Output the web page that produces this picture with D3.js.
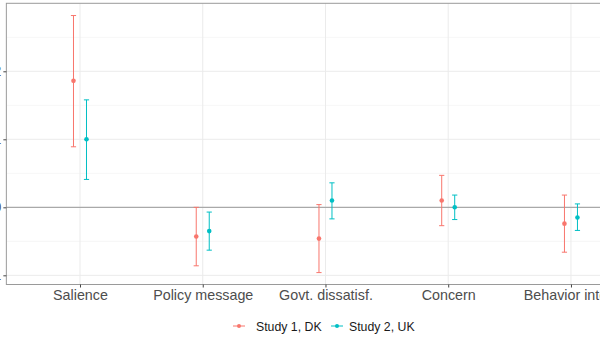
<!DOCTYPE html>
<html>
<head>
<meta charset="utf-8">
<script src="https://cdn.jsdelivr.net/npm/d3@7"></script>
<style>
  html, body { margin: 0; padding: 0; background: #fff; }
  svg { display: block; font-family: "Liberation Sans", Arial, Helvetica, sans-serif; }
</style>
</head>
<body>
<svg id="chart" width="600" height="337"></svg>
<script>
const categories = ["Salience", "Policy message", "Govt. dissatisf.", "Concern", "Behavior intent"];
const seriesNames = ["Study 1, DK", "Study 2, UK"];
const seriesColors = ["#F8766D", "#00BFC4"];
// estimates, lower and upper bounds per series
const study1Est   = [0.186, -0.043, -0.046, 0.010, -0.024];
const study1Lower = [0.089, -0.086, -0.096, -0.027, -0.066];
const study1Upper = [0.282, 0.000, 0.004, 0.047, 0.018];
const study2Est   = [0.100, -0.035, 0.010, 0.000, -0.015];
const study2Lower = [0.041, -0.063, -0.017, -0.018, -0.034];
const study2Upper = [0.158, -0.007, 0.036, 0.018, 0.005];
const yTicks = [-0.1, 0.0, 0.1, 0.2];
const yTickLabels = ["-0.1", "0.0", "0.1", "0.2"];
const yMinor = [-0.05, 0.05, 0.15, 0.25];

const svg = d3.select("#chart");
const panel = { left: 6.35, right: 644.6, top: 3.3, bottom: 284.5 };

const x = d3.scalePoint().domain(categories).range([panel.left, panel.right]).padding(0.6);
const y = d3.scaleLinear().domain([-0.1135, 0.3]).range([panel.bottom, panel.top]);
const dodge = 6.5;

const series = [
  { name: seriesNames[0], color: seriesColors[0], est: study1Est, lo: study1Lower, hi: study1Upper, off: -dodge },
  { name: seriesNames[1], color: seriesColors[1], est: study2Est, lo: study2Lower, hi: study2Upper, off: dodge }
];

const g = svg.append("g");

// minor gridlines
g.selectAll(".minor").data(yMinor).enter().append("line")
  .attr("x1", panel.left).attr("x2", panel.right)
  .attr("y1", d => y(d)).attr("y2", d => y(d))
  .attr("stroke", "#f0f0f0").attr("stroke-width", 0.6);
// major gridlines
g.selectAll(".major").data(yTicks).enter().append("line")
  .attr("x1", panel.left).attr("x2", panel.right)
  .attr("y1", d => y(d)).attr("y2", d => y(d))
  .attr("stroke", "#ebebeb").attr("stroke-width", 1);
g.selectAll(".vmajor").data(categories).enter().append("line")
  .attr("x1", d => x(d)).attr("x2", d => x(d))
  .attr("y1", panel.top).attr("y2", panel.bottom)
  .attr("stroke", "#ebebeb").attr("stroke-width", 1);

// zero line
g.append("line")
  .attr("x1", panel.left).attr("x2", panel.right)
  .attr("y1", y(0)).attr("y2", y(0))
  .attr("stroke", "#9a9a9a").attr("stroke-width", 1);

// error bars and points
series.forEach(s => {
  const sg = g.append("g");
  categories.forEach((c, i) => {
    const cx = x(c) + s.off;
    sg.append("line").attr("x1", cx).attr("x2", cx)
      .attr("y1", y(s.lo[i])).attr("y2", y(s.hi[i]))
      .attr("stroke", s.color).attr("stroke-width", 1);
    [s.lo[i], s.hi[i]].forEach(v => {
      sg.append("line").attr("x1", cx - 2.6).attr("x2", cx + 2.6)
        .attr("y1", y(v)).attr("y2", y(v))
        .attr("stroke", s.color).attr("stroke-width", 1);
    });
    sg.append("circle").attr("cx", cx).attr("cy", y(s.est[i]))
      .attr("r", 2.3).attr("fill", s.color);
  });
});

// panel border
g.append("rect")
  .attr("x", panel.left).attr("y", panel.top)
  .attr("width", panel.right - panel.left).attr("height", panel.bottom - panel.top)
  .attr("fill", "none").attr("stroke", "#9a9a9a").attr("stroke-width", 1);

// y axis
const yAxis = d3.axisLeft(y).tickValues(yTicks).tickSize(3).tickPadding(2)
  .tickFormat((d, i) => yTickLabels[i]);
const ya = svg.append("g").attr("transform", `translate(${panel.left},0)`).call(yAxis);
ya.select(".domain").remove();
ya.selectAll(".tick line").attr("stroke", "#444");
ya.selectAll(".tick text").attr("fill", "#4d4d4d").style("font-size", "14px");

// x axis
const xAxis = d3.axisBottom(x).tickSize(3).tickPadding(2.5);
const xa = svg.append("g").attr("transform", `translate(0,${panel.bottom})`).call(xAxis);
xa.select(".domain").remove();
xa.selectAll(".tick line").attr("stroke", "#444");
xa.selectAll(".tick text").attr("fill", "#4d4d4d").style("font-size", "14.3px");

// legend
const legendY = 326;
const legendItems = [
  { s: series[0], kx: 239, tx: 256 },
  { s: series[1], kx: 337, tx: 349 }
];
legendItems.forEach(it => {
  svg.append("line").attr("x1", it.kx - 6).attr("x2", it.kx + 6)
    .attr("y1", legendY).attr("y2", legendY)
    .attr("stroke", it.s.color).attr("stroke-width", 1);
  svg.append("circle").attr("cx", it.kx).attr("cy", legendY).attr("r", 2).attr("fill", it.s.color);
  svg.append("text").attr("x", it.tx).attr("y", legendY + 4.5)
    .attr("fill", "#1a1a1a").style("font-size", "12.3px").text(it.s.name);
});
</script>
</body>
</html>
